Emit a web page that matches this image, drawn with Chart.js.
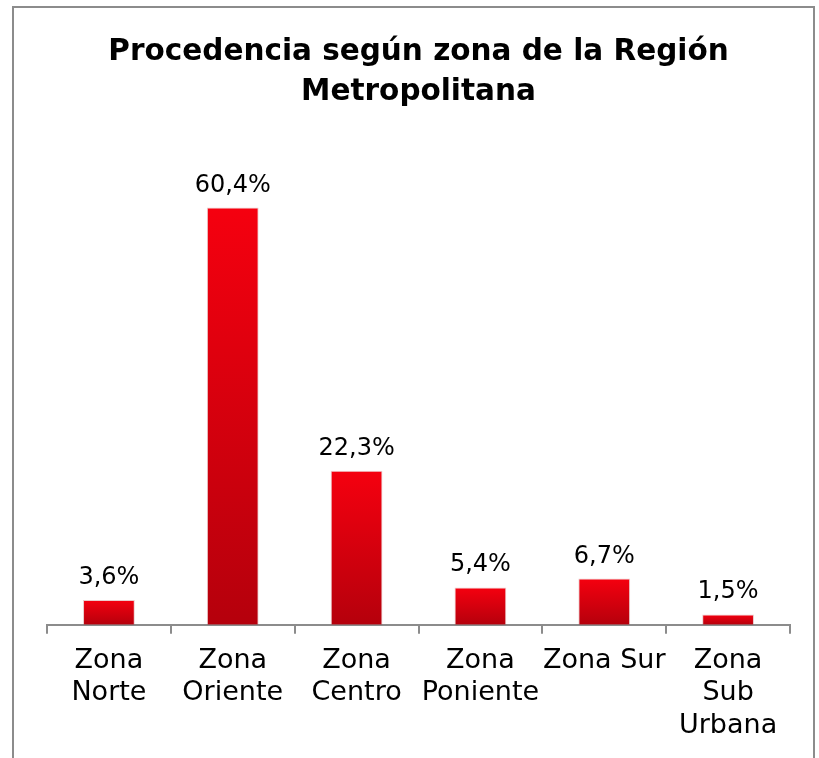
<!DOCTYPE html>
<html>
<head>
<meta charset="utf-8">
<script src="https://cdn.jsdelivr.net/npm/chart.js@4/dist/chart.umd.min.js"></script>
<style>
  html,body{margin:0;padding:0;background:#fff;}
  #wrap{position:relative;width:819px;height:758px;}
  #frame{position:absolute;left:12px;top:6px;width:803px;height:760px;border:2px solid #8c8c8c;border-bottom:none;box-sizing:border-box;}
  canvas{position:absolute;left:0;top:0;}
</style>
</head>
<body>
<div id="wrap">
  <div id="frame"></div>
  <canvas id="c" width="819" height="758"></canvas>
</div>
<script>
const categories = [["Zona","Norte"],["Zona","Oriente"],["Zona","Centro"],["Zona","Poniente"],"Zona Sur",["Zona","Sub","Urbana"]];
const values = [3.6, 60.4, 22.3, 5.4, 6.7, 1.5];
const valueLabels = ["3,6%","60,4%","22,3%","5,4%","6,7%","1,5%"];
const titleLines = ["Procedencia según zona de la Región","Metropolitana"];

const FONT = "'DejaVu Sans', sans-serif";

const dataLabelPlugin = {
  id: 'dataLabels',
  afterDatasetsDraw(chart) {
    const ctx = chart.ctx;
    const meta = chart.getDatasetMeta(0);
    ctx.save();
    ctx.fillStyle = '#000';
    ctx.font = "24px " + FONT;
    ctx.textAlign = 'center';
    ctx.textBaseline = 'alphabetic';
    meta.data.forEach((bar, i) => {
      ctx.fillText(valueLabels[i], bar.x, bar.y - 16);
    });
    ctx.restore();
  }
};

new Chart(document.getElementById('c'), {
  type: 'bar',
  data: {
    labels: categories,
    datasets: [{
      data: values,
      backgroundColor(context) {
        const chart = context.chart;
        const ys = chart.scales && chart.scales.y;
        if (!chart.chartArea || !ys || context.dataIndex === undefined) return '#e00010';
        const top = ys.getPixelForValue(values[context.dataIndex]);
        const base = ys.getPixelForValue(0);
        if (!isFinite(top) || !isFinite(base) || top === base) return '#e00010';
        const g = chart.ctx.createLinearGradient(0, top, 0, base);
        g.addColorStop(0, '#f5000f');
        g.addColorStop(1, '#b5000c');
        return g;
      },
      borderColor: 'rgba(150,0,0,0.2)',
      borderWidth: 1,
      categoryPercentage: 0.82,
      barPercentage: 0.51
    }]
  },
  options: {
    responsive: false,
    animation: false,
    layout: { padding: { left: 47, right: 29, top: 0, bottom: 5 } },
    plugins: {
      legend: { display: false },
      tooltip: { enabled: false },
      title: {
        display: true,
        text: titleLines,
        color: '#000',
        font: { family: FONT, size: 29.5, weight: 'bold', lineHeight: 1.36 },
        padding: { top: 32, bottom: 29 }
      }
    },
    scales: {
      y: { display: false, min: 0, max: 70 },
      x: {
        border: { display: true, color: '#8c8c8c', width: 2 },
        grid: { display: true, drawOnChartArea: false, drawTicks: true, tickLength: 9, color: '#8c8c8c', lineWidth: 2, offset: true },
        ticks: { color: '#000', font: { family: FONT, size: 27, lineHeight: 1.2 }, padding: 11, maxRotation: 0, autoSkip: false }
      }
    }
  },
  plugins: [dataLabelPlugin]
});
</script>
</body>
</html>
